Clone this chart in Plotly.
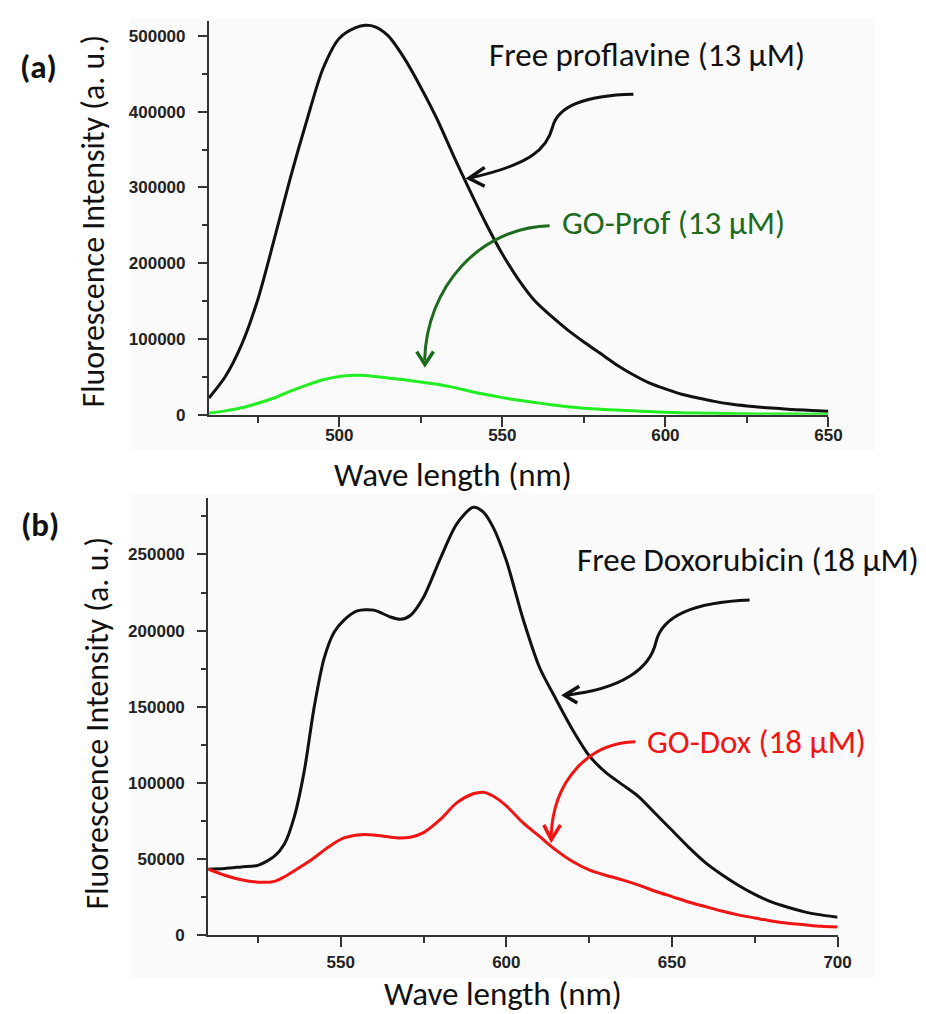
import plotly.graph_objects as go

# ---------------- data ----------------
wl_a = [460, 465, 470, 475, 480, 485, 490, 495, 500, 505,
        508, 511, 515, 520, 525, 530, 535, 540, 545, 550,
        555, 560, 565, 570, 575, 580, 585, 590, 595, 600,
        605, 610, 615, 620, 625, 630, 635, 640, 645, 650]
free_prof = [22000, 50000, 92000, 152000, 231000, 313000, 388000, 457000, 497000, 511000,
             514000, 512000, 500000, 470000, 432000, 390000, 342000, 296000, 252000, 212000,
             178000, 150000, 130000, 112000, 96000, 81000, 66000, 53000, 42000, 34000,
             27000, 22000, 17500, 14000, 11500, 9500, 8000, 6500, 5500, 4500]
go_prof = [2000, 5000, 9000, 15000, 22000, 31000, 39000, 46000, 50500, 52000,
           51800, 50500, 48500, 46000, 43000, 40000, 36000, 31000, 26500, 22500,
           19000, 16000, 13000, 10500, 8500, 7000, 6000, 5000, 4000, 3200,
           2600, 2100, 1700, 1400, 1100, 900, 800, 700, 600, 500]

wl_b = [510, 515, 520, 525, 530, 533, 536, 539, 542, 545,
        548, 551, 555, 560, 565, 568, 571, 575, 580, 585,
        590, 593, 596, 600, 605, 610, 615, 620, 625, 630,
        635, 640, 645, 650, 655, 660, 665, 670, 675, 680,
        685, 690, 695, 700]
free_dox = [43500, 44000, 45000, 46000, 52000, 60000, 78000, 108000, 150000, 182000,
            199000, 207000, 213000, 213500, 209000, 207500, 210000, 222000, 247000, 270000,
            281000, 278000, 268000, 246000, 208000, 176000, 155000, 135000, 118000, 107000,
            99000, 91000, 80000, 69000, 58000, 48000, 40000, 33000, 27000, 22000,
            18500, 15500, 13500, 12000]
go_dox = [43500, 39500, 36500, 35000, 35500, 38500, 42500, 46500, 51000, 56000,
          60500, 64000, 66000, 66000, 64500, 64000, 64500, 67500, 76000, 87000,
          93000, 94000, 91500, 85000, 74000, 65000, 56000, 48500, 43000, 39500,
          36500, 33000, 29000, 25500, 22000, 19000, 16000, 13500, 11500, 9500,
          8000, 7000, 6000, 5500]

assert len(wl_a) == len(free_prof) == len(go_prof)
assert len(wl_b) == len(free_dox) == len(go_dox)

# ---------------- layout helpers ----------------
W, H = 926, 1014


def X(px):
    return px / W


def Y(py):
    return 1 - py / H


TEXT_FONT = "Carlito, Calibri, Lato, sans-serif"
TICK_FONT = dict(family="Arial, Liberation Sans, sans-serif", size=17, color="#222", weight="bold")
AX = "#333333"

fig = go.Figure()

fig.add_trace(go.Scatter(x=wl_a, y=free_prof, mode="lines", line=dict(color="#111111", width=3, shape="spline", smoothing=0.8),
                         xaxis="x", yaxis="y", name="Free proflavine"))
fig.add_trace(go.Scatter(x=wl_a, y=go_prof, mode="lines", line=dict(color="#22ee22", width=3, shape="spline", smoothing=0.8),
                         xaxis="x", yaxis="y", name="GO-Prof"))
fig.add_trace(go.Scatter(x=wl_b, y=free_dox, mode="lines", line=dict(color="#111111", width=3, shape="spline", smoothing=0.8),
                         xaxis="x2", yaxis="y2", name="Free Doxorubicin"))
fig.add_trace(go.Scatter(x=wl_b, y=go_dox, mode="lines", line=dict(color="#f21313", width=3, shape="spline", smoothing=0.8),
                         xaxis="x2", yaxis="y2", name="GO-Dox"))


def xax(domain, rng, anchor, standoff):
    return dict(domain=domain, range=rng, anchor=anchor, showline=True, linecolor=AX, linewidth=2,
                ticks="outside", ticklen=10, tickwidth=1.5, tickcolor=AX, tick0=500, dtick=50,
                minor=dict(ticks="outside", ticklen=6, tickwidth=1.5, tickcolor=AX, dtick=25, tick0=475),
                showgrid=False, zeroline=False, tickfont=TICK_FONT, ticklabelstandoff=standoff)


def yax(domain, rng, anchor, dtick):
    return dict(domain=domain, range=rng, anchor=anchor, showline=True, linecolor=AX, linewidth=2,
                ticks="outside", ticklen=9, tickwidth=1.5, tickcolor=AX, tick0=0, dtick=dtick,
                minor=dict(ticks="outside", ticklen=5, tickwidth=1.5, tickcolor=AX, dtick=dtick / 2),
                showgrid=False, zeroline=False, tickfont=TICK_FONT, tickformat="d", ticklabelstandoff=9)


fig.update_layout(
    width=W, height=H, margin=dict(l=0, r=0, t=0, b=0),
    paper_bgcolor="white", plot_bgcolor="#fafafa", showlegend=False,
    xaxis=xax([X(204), X(833)], [460, 650], "y", -6),
    yaxis=yax([Y(410.7), Y(12.9)], [0, 520000], "x", 100000),
    xaxis2=xax([X(203.3), X(842.3)], [510, 700], "y2", 0),
    yaxis2=yax([Y(936.7), Y(495)], [0, 287000], "x2", 50000),
)

# light grey backdrop regions
shapes = [
    dict(type="rect", xref="paper", yref="paper", x0=X(125), x1=X(880), y0=Y(447), y1=Y(10),
         fillcolor="#fafafa", line=dict(width=0), layer="below"),
    dict(type="rect", xref="paper", yref="paper", x0=X(125), x1=X(880), y0=Y(980), y1=Y(490),
         fillcolor="#fafafa", line=dict(width=0), layer="below"),
]


def path(cmds, color, width=3):
    s = ""
    for c in cmds:
        if isinstance(c, str):
            s += c + " "
        else:
            s += f"{X(c[0]):.5f},{Y(c[1]):.5f} "
    return dict(type="path", xref="paper", yref="paper", path=s.strip(),
                line=dict(color=color, width=width), layer="above")


BLK = "#111111"
DGREEN = "#1d6b1d"
RED = "#f21313"

# Arrow 1 (black, top) - wavy
shapes.append(path(["M", (635, 87), "C", (585, 88), (558, 100), (553, 120),
                    "C", (547, 143), (530, 158), (470, 171.5)], BLK))
shapes.append(path(["M", (484, 161), "L", (468, 172), "L", (484, 180)], BLK, 3.5))
# Arrow 2 (green, top)
shapes.append(path(["M", (550, 220), "C", (478, 222), (425, 282), (423, 356)], DGREEN))
shapes.append(path(["M", (415, 347), "L", (423.3, 360), "L", (432, 347)], DGREEN, 3.5))
# Arrow 3 (black, bottom) - wavy
shapes.append(path(["M", (753, 598), "C", (700, 600), (665, 612), (658, 640),
                    "C", (652, 668), (622, 688), (567, 694)], BLK))
shapes.append(path(["M", (580, 685), "L", (565, 694), "L", (578, 702)], BLK, 3.5))
# Arrow 4 (red, bottom)
shapes.append(path(["M", (637, 741), "C", (590, 742), (553, 780), (551.5, 837)], RED))
shapes.append(path(["M", (544, 825), "L", (551.7, 840), "L", (561, 825)], RED, 3.5))

fig.update_layout(shapes=shapes)

ann = []


def txt(t, px, py, size, color="#111111", angle=0, bold=False):
    ann.append(dict(text=t, x=X(px), y=Y(py), xref="paper", yref="paper", showarrow=False,
                    xanchor="center", yanchor="middle", textangle=angle,
                    font=dict(family=TEXT_FONT, size=size, color=color, weight="bold" if bold else "normal")))


txt("(a)", 31, 60, 33, bold=True)
txt("(b)", 32, 522, 33, bold=True)
txt("Fluorescence Intensity (a. u.)", 87, 215, 32, angle=-90)
txt("Fluorescence Intensity (a. u.)", 91, 722, 32, angle=-90)
txt("Wave length (nm)", 452, 472, 33)
txt("Wave length (nm)", 503, 996, 33)
txt("Free proflavine (13 μM)", 649, 47, 33)
txt("GO-Prof (13 μM)", 676, 217, 33, color=DGREEN)
txt("Free Doxorubicin (18 μM)", 751, 557, 33)
txt("GO-Dox (18 μM)", 760, 741, 33, color=RED)

fig.update_layout(annotations=ann)

fig.write_html("out.html")
